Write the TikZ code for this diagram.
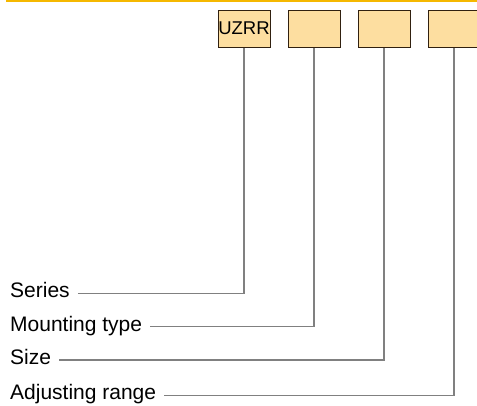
\documentclass[tikz,border=0pt]{standalone}
\usepackage{fontspec}
\setmainfont{Liberation Sans}
\begin{document}
\begin{tikzpicture}[x=1pt,y=-1pt,
  codebox/.style={draw=black!75!brown,line width=1pt,fill=codefill,minimum width=52pt,minimum height=37pt,inner sep=0pt,anchor=north west,font=\fontsize{18.5}{20}\selectfont},
  lbl/.style={anchor=base west,inner sep=0pt,font=\fontsize{21}{24}\selectfont},
  conn/.style={draw=linegray,line width=1.5pt}]
\definecolor{codefill}{RGB}{253,222,160}
\definecolor{linegray}{RGB}{128,128,128}
\definecolor{topline}{RGB}{245,184,0}
\useasboundingbox (0,0) rectangle (477,405);
\fill[topline] (6,0) rectangle (477,1.8);
\node[codebox] (b1) at (217.5,9.5) {UZRR};
\node[codebox] (b2) at (287.5,9.5) {};
\node[codebox] (b3) at (357.5,9.5) {};
\node[codebox] (b4) at (427.5,9.5) {};
\node[lbl] (l1) at (10,297) {Series};
\node[lbl] (l2) at (10,331) {Mounting type};
\node[lbl] (l3) at (10,364) {Size};
\node[lbl] (l4) at (10,399.5) {Adjusting range};
\coordinate (c1) at (b1.south |- 0,293.3);
\coordinate (c2) at (b2.south |- 0,326.7);
\coordinate (c3) at (b3.south |- 0,360);
\coordinate (c4) at (b4.south |- 0,395.7);
\draw[conn] ([xshift=8pt]l1.east |- c1) -- (c1) -- (b1.south);
\draw[conn] ([xshift=8pt]l2.east |- c2) -- (c2) -- (b2.south);
\draw[conn] ([xshift=8pt]l3.east |- c3) -- (c3) -- (b3.south);
\draw[conn] ([xshift=8pt]l4.east |- c4) -- (c4) -- (b4.south);
\end{tikzpicture}
\end{document}
